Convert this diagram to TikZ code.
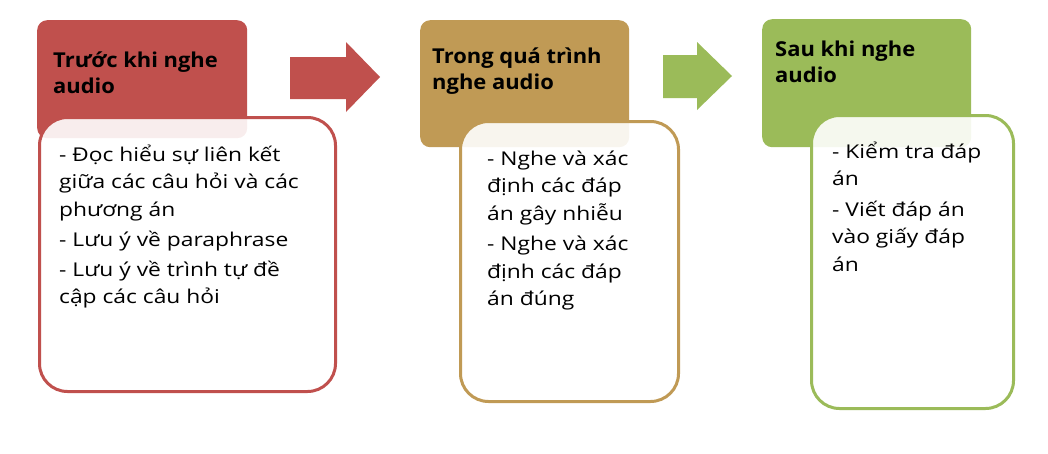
\documentclass[tikz,border=0pt]{standalone}
\usepackage{fontspec}
\setmainfont{Open Sans}
\newfontfamily\bodyfont[FakeStretch=1.2]{Open Sans}
\newfontfamily\headfont[FakeStretch=1.07]{Open Sans}
\definecolor{cred}{HTML}{C0504D}
\definecolor{cgold}{HTML}{C09A55}
\definecolor{cgreen}{HTML}{9BBB59}
\begin{document}
\begin{tikzpicture}[x=1pt,y=-1pt,
  head/.style={fill=#1, rounded corners=10pt, anchor=north west, inner sep=0, draw=none},
  body/.style={draw=#1, line width=3pt, fill=white, fill opacity=0.9, draw opacity=1, text opacity=1, rounded corners=28pt, anchor=north west, inner sep=0},
  htext/.style={anchor=north west, inner sep=0, align=left, font=\headfont\fontsize{20.5}{26.5}\selectfont\bfseries},
  btext/.style={anchor=north west, inner sep=0, align=left, font=\bodyfont\fontsize{19}{27.5}\selectfont},
  blockarrow/.style={fill=#1, draw=none}]
\useasboundingbox (0,0) rectangle (1048,453);
% box 1
\node[head=cred, minimum width=210pt, minimum height=118pt] (h1) at (37,20) {};
\node[body=cred, minimum width=296pt, minimum height=274pt] (b1) at (38,116) {};
\node[htext] (t1) at (53,45) {\rule{0pt}{22pt}Trước khi nghe\\audio};
\node[btext] (c1) at (59,139) {\rule{0pt}{22pt}- Đọc hiểu sự liên kết\\giữa các câu hỏi và các\\phương án\\[3pt]- Lưu ý về paraphrase\\[2pt]- Lưu ý về trình tự đề\\cập các câu hỏi};
% arrow 1
\fill[blockarrow=cred] (290,57) -- (346,57) -- (346,42) -- (380,77) -- (346,112) -- (346,99) -- (290,99) -- cycle;
% box 2
\node[head=cgold, minimum width=209pt, minimum height=127pt] (h2) at (420,20) {};
\node[body=cgold, minimum width=218pt, minimum height=280pt] (b2) at (459,120) {};
\node[htext] (t2) at (432,41) {\rule{0pt}{22pt}Trong quá trình\\nghe audio};
\node[btext] (c2) at (487,143) {\rule{0pt}{22pt}- Nghe và xác\\định các đáp\\án gây nhiễu\\[3pt]- Nghe và xác\\định các đáp\\án đúng};
% arrow 2
\fill[blockarrow=cgreen] (663,55) -- (697,55) -- (697,42) -- (732,76) -- (697,110) -- (697,98) -- (663,98) -- cycle;
% box 3
\node[head=cgreen, minimum width=209pt, minimum height=128pt] (h3) at (762,19) {};
\node[body=cgreen, minimum width=202pt, minimum height=293pt] (b3) at (810,114) {};
\node[htext] (t3) at (775,34) {\rule{0pt}{22pt}Sau khi nghe\\audio};
\node[btext] (c3) at (832,136) {\rule{0pt}{22pt}- Kiểm tra đáp\\án\\[3pt]- Viết đáp án\\vào giấy đáp\\án};
\end{tikzpicture}
\end{document}
